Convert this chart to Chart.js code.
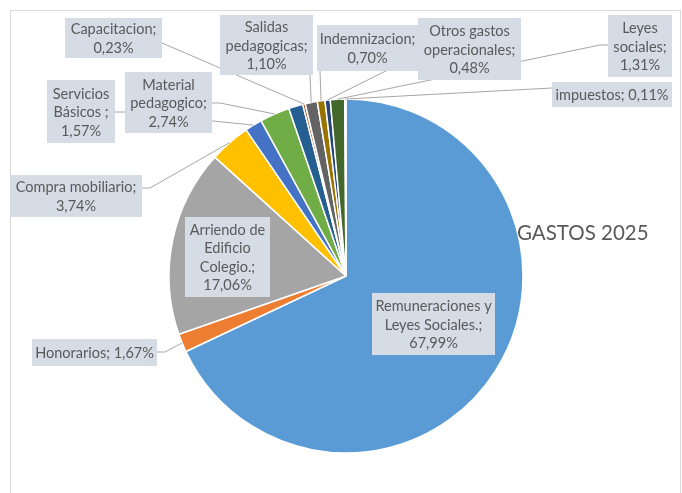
<!DOCTYPE html>
<html>
<head>
<meta charset="utf-8">
<script src="https://cdn.jsdelivr.net/npm/chart.js@4.4.0/dist/chart.umd.min.js"></script>
<style>
body { margin: 0; background: #fff; }
#wrap { width: 682px; height: 493px; }
</style>
</head>
<body>
<div id="wrap"><canvas id="chartGastos" width="682" height="493"></canvas></div>
<script>
// Datos del gráfico (orden de las porciones, sentido horario desde arriba)
const categorias = ['Remuneraciones y Leyes Sociales.', 'Honorarios', 'Arriendo de Edificio Colegio.', 'Compra mobiliario',
    'Servicios Básicos ', 'Material pedagogico', '', 'Capacitacion', 'Salidas pedagogicas', 'Indemnizacion',
    'Otros gastos operacionales', 'Leyes sociales', 'impuestos'];
const porcentajes = [67.99, 1.67, 17.06, 3.74, 1.57, 2.74, 1.30, 0.23, 1.10, 0.70, 0.48, 1.31, 0.11];
const colores = ['#5B9BD5', '#ED7D31', '#A5A5A5', '#FFC000', '#4472C4', '#70AD47', '#255E91', '#9E480E',
    '#636363', '#997300', '#264478', '#43682B', '#7CAFDD'];
const titulo = 'GASTOS 2025';

// Cajas de etiquetas (colocadas a mano como en Excel) y salida de la línea guía
const cajas = [
    { x: 372, y: 293, w: 123, h: 62 },
    { x: 32, y: 339, w: 125, h: 27, guia: [[157, 352], [165, 352]] },
    { x: 185, y: 217, w: 85, h: 80 },
    { x: 10, y: 175, w: 132, h: 42, guia: [[142, 188], [150, 188]] },
    { x: 47, y: 80, w: 68, h: 63, guia: [[115, 112], [125, 112]] },
    { x: 125, y: 72, w: 87, h: 61, guia: [[212, 103], [220, 103]] },
    null,
    { x: 65, y: 18, w: 97, h: 40, guia: [[162, 43]] },
    { x: 220, y: 15, w: 93, h: 60, guia: [[310, 75]] },
    { x: 317, y: 25, w: 101, h: 46, guia: [[320, 71]] },
    { x: 418, y: 18, w: 103, h: 62, guia: [[418, 55]] },
    { x: 608, y: 15, w: 64, h: 62, guia: [[608, 45], [600, 45]] },
    { x: 552, y: 82, w: 120, h: 25, guia: [[552, 88]] }
];

const FUENTE = '14.5px Lato';
const INTERLINEA = 18.5;

function formatoPct(v) {
    return v.toFixed(2).replace('.', ',') + '%';
}

// Parte el texto en líneas según el ancho de la caja
function partirTexto(ctx, texto, ancho) {
    const palabras = texto.split(' ');
    let lineas = [];
    let actual = '';
    palabras.forEach(p => {
        const prueba = actual ? actual + ' ' + p : p;
        if (actual && ctx.measureText(prueba).width > ancho) {
            lineas.push(actual);
            actual = p;
        } else {
            actual = prueba;
        }
    });
    if (actual) lineas.push(actual);
    return lineas;
}

const etiquetasPlugin = {
    id: 'etiquetas',
    beforeDraw(chart) {
        const ctx = chart.ctx;
        ctx.save();
        ctx.strokeStyle = '#D9D9D9';
        ctx.lineWidth = 1;
        ctx.strokeRect(10.5, 10.5, 670, 500);
        ctx.restore();
    },
    afterDatasetsDraw(chart) {
        const ctx = chart.ctx;
        const meta = chart.getDatasetMeta(0);
        ctx.save();
        // Líneas guía primero
        ctx.strokeStyle = '#A6A6A6';
        ctx.lineWidth = 1;
        cajas.forEach((c, i) => {
            if (!c || !c.guia) return;
            const a = meta.data[i].getProps(['x', 'y', 'startAngle', 'endAngle', 'outerRadius'], true);
            const mid = (a.startAngle + a.endAngle) / 2;
            const ex = a.x + Math.cos(mid) * a.outerRadius;
            const ey = a.y + Math.sin(mid) * a.outerRadius;
            ctx.beginPath();
            ctx.moveTo(c.guia[0][0], c.guia[0][1]);
            for (let k = 1; k < c.guia.length; k++) ctx.lineTo(c.guia[k][0], c.guia[k][1]);
            ctx.lineTo(ex, ey);
            ctx.stroke();
        });
        // Cajas y textos
        ctx.font = FUENTE;
        ctx.textAlign = 'center';
        ctx.textBaseline = 'middle';
        cajas.forEach((c, i) => {
            if (!c) return;
            ctx.fillStyle = '#D6DCE5';
            ctx.fillRect(c.x, c.y, c.w, c.h);
            const texto = categorias[i] + '; ' + formatoPct(porcentajes[i]);
            const lineas = partirTexto(ctx, texto, c.w - 4);
            const cy = c.y + c.h / 2;
            const y0 = cy - (lineas.length - 1) * INTERLINEA / 2;
            ctx.fillStyle = '#595959';
            lineas.forEach((l, k) => ctx.fillText(l, c.x + c.w / 2, y0 + k * INTERLINEA + 1));
        });
        ctx.restore();
    },
    afterDraw(chart) {
        const ctx = chart.ctx;
        ctx.save();
        ctx.font = '20.5px Lato';
        ctx.fillStyle = '#595959';
        ctx.textAlign = 'left';
        ctx.textBaseline = 'alphabetic';
        ctx.fillText(titulo, 517, 240);
        ctx.restore();
    }
};

window.chartGastos = new Chart(document.getElementById('chartGastos'), {
    type: 'pie',
    data: {
        labels: categorias,
        datasets: [{
            data: porcentajes,
            backgroundColor: colores,
            borderColor: '#FFFFFF',
            borderWidth: 1.5,
            hoverOffset: 0,
            radius: 177
        }]
    },
    options: {
        responsive: false,
        animation: false,
        layout: { padding: { left: 100, right: 90, top: 69, bottom: 10 } },
        plugins: {
            legend: { display: false },
            tooltip: { enabled: false },
            title: { display: false }
        }
    },
    plugins: [etiquetasPlugin]
});
</script>
</body>
</html>
